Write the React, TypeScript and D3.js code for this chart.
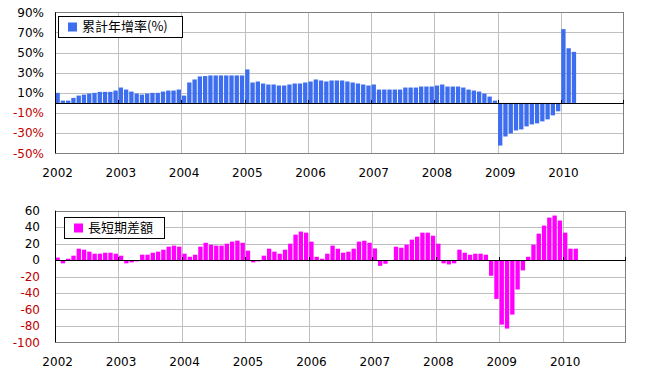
import React from "react";
import * as d3 from "d3";

const years = ["2002", "2003", "2004", "2005", "2006", "2007", "2008", "2009", "2010"];
const monthsPerYear = 12;
const totalMonths = 108; // 2002-01 .. 2010-12 axis span

const growth = [
  10, 2.3, 2.3, 5, 7.3, 8.3, 9.3, 10, 11, 11, 11, 12.3,
  15.3, 13.3, 11.3, 9.3, 8.3, 9.3, 10, 10, 11.3, 12.3, 12.3, 13.3,
  7.3, 20.3, 23.3, 26.3, 26.7, 27.3, 27.3, 27.3, 27.3, 27.3, 27.3, 27.3,
  33.3, 20.3, 21.3, 19.3, 18.3, 18.3, 17.3, 17.3, 18.3, 19.3, 19.3, 20.3,
  21.3, 23.3, 22.3, 21.3, 22.3, 22.3, 22.3, 21.3, 20.3, 19.3, 18.3, 17.3,
  18.3, 13.3, 13.3, 13.3, 13.3, 13.3, 15.3, 15.3, 15.3, 16.3, 16.3, 16.3,
  17.3, 18.3, 16.3, 16.3, 16.3, 15.3, 13.3, 12.3, 11.3, 9.3, 6.3, 2.3,
  -42.3, -33.3, -30.3, -27.3, -26.3, -23.3, -21.3, -20.3, -18.3, -16.3, -12.3, -8.3,
  73.3, 54.3, 50.7,
];

const spread = [
  3, -4, 1.6, 5.3, 13.8, 12.6, 10.2, 7.7, 7.7, 8.9, 8.9, 7.7,
  5.3, -4, -2.8, -1.6, 6.5, 6.5, 8.9, 10.2, 12.6, 16.3, 17.5, 16.3,
  7.7, 4, 6.5, 16.3, 21, 18.7, 17.5, 17.5, 19.9, 22.4, 23.6, 21,
  11.4, -2.8, -1.6, 5.3, 13.8, 10.2, 7.7, 12.6, 19.9, 30.9, 34.6, 33.3,
  22.4, 4, 1.6, 7.7, 17.5, 13.8, 8.9, 10.2, 13.8, 22.4, 23.5, 21,
  14.1, -7, -4.5, 0, 16.2, 15, 18.7, 24.8, 28.4, 33.3, 33.3, 29.6,
  19.9, -4, -5.3, -4, 12.6, 8.9, 6.5, 7.7, 7.7, 6.5, -19.1, -47.2,
  -78.5, -83.3, -66.3, -35.8, -12.6, 4, 18.7, 32.1, 41.9, 51.6, 54.1, 48,
  33.3, 13.8, 13.8,
];

const growthTicks = [90, 70, 50, 30, 10, -10, -30, -50];
const spreadTicks = [60, 40, 20, 0, -20, -40, -60, -80, -100];

const months = d3.range(totalMonths).map(
  (i) => `${2002 + Math.floor(i / monthsPerYear)}-${String((i % monthsPerYear) + 1).padStart(2, "0")}`
);

const FONT = "'DejaVu Sans', Verdana, sans-serif";
const CJK = "'Noto Sans CJK TC', 'Noto Sans CJK SC', sans-serif";
const RED = "#c00000";

type PanelProps = {
  values: number[];
  ticks: number[];
  domain: [number, number];
  top: number;
  bottom: number;
  right: number;
  color: string;
  fmt: (v: number) => string;
  labelRight: number;
  yearLabelY: number;
  legend: string;
  legendBox: { x: number; y: number; w: number; h: number };
};

function Panel(p: PanelProps) {
  const left = 55;
  const x = d3.scaleBand<string>().domain(months).range([left, p.right]).paddingInner(0.18).paddingOuter(0.09);
  const step = x.step();
  const y = d3.scaleLinear().domain(p.domain).range([p.bottom, p.top]);
  const y0 = y(0);
  const yearX = (yr: string) => x(`${yr}-01`)! - step * x.paddingOuter() * 0 - (step - x.bandwidth()) / 2;
  const boundary = (i: number) => left + (i * (p.right - left)) / totalMonths;
  return (
    <g>
      <rect x={left} y={p.top} width={p.right - left} height={p.bottom - p.top} fill="#fff" />
      {p.ticks.map((t) => (
        <line key={"h" + t} x1={left} x2={p.right} y1={Math.round(y(t)) + 0.5} y2={Math.round(y(t)) + 0.5} stroke="#c0c0c0" />
      ))}
      {years.slice(1).map((yr, i) => (
        <line key={"v" + yr} x1={Math.round(boundary((i + 1) * 12)) + 0.5} x2={Math.round(boundary((i + 1) * 12)) + 0.5} y1={p.top} y2={p.bottom} stroke="#c0c0c0" />
      ))}
      <rect x={left + 0.5} y={Math.round(p.top) + 0.5} width={p.right - left - 1} height={Math.round(p.bottom) - Math.round(p.top)} fill="none" stroke="#808080" />
      {p.values.map((v, i) => {
        const xx = x(months[i])!;
        const a = y(Math.max(v, 0));
        const b = y(Math.min(v, 0));
        return <rect key={i} x={xx} y={a} width={x.bandwidth()} height={Math.max(b - a, 0)} fill={p.color} />;
      })}
      <line x1={left} x2={p.right} y1={Math.round(y0) + 0.5} y2={Math.round(y0) + 0.5} stroke="#000" />
      {years.map((yr, i) => (
        <line key={"t" + yr} x1={Math.round(boundary(i * 12)) + 0.5} x2={Math.round(boundary(i * 12)) + 0.5} y1={y0} y2={y0 - 3} stroke="#000" />
      ))}
      <line x1={p.right - 0.5} x2={p.right - 0.5} y1={y0} y2={y0 - 3} stroke="#000" />
      <line x1={left + 0.5} x2={left + 0.5} y1={p.top} y2={p.bottom} stroke="#000" />
      {p.ticks.map((t) => (
        <text key={"l" + t} x={p.labelRight} y={y(t)} dy="0.36em" textAnchor="end" fontFamily={FONT} fontSize={12} fill={t < 0 ? RED : "#000"}>
          {p.fmt(t)}
        </text>
      ))}
      {years.map((yr) => (
        <text key={"y" + yr} x={x(`${yr}-01`)! + x.bandwidth() / 2} y={p.yearLabelY} textAnchor="middle" fontFamily={FONT} fontSize={12} fill="#000">
          {yr}
        </text>
      ))}
      <rect x={p.legendBox.x + 0.5} y={p.legendBox.y + 0.5} width={p.legendBox.w} height={p.legendBox.h} fill="#fff" stroke="#000" />
      <rect x={p.legendBox.x + 10} y={p.legendBox.y + p.legendBox.h / 2 - 4} width={9} height={9} fill={p.color} />
      <text x={p.legendBox.x + 24} y={p.legendBox.y + p.legendBox.h / 2} dy="0.36em" fontFamily={CJK} fontSize={13} fill="#000">
        {p.legend}
      </text>
    </g>
  );
}

export default function App() {
  return (
    <svg width={651} height={383} style={{ position: "absolute", left: 0, top: 0, background: "#fff" }}>
      <rect width={651} height={383} fill="#fff" />
      <Panel
        values={growth}
        ticks={growthTicks}
        domain={[-50, 90]}
        top={12.3}
        bottom={153.3}
        right={624}
        color="#3d6ef0"
        fmt={(v) => `${v}%`}
        labelRight={44}
        yearLabelY={177}
        legend="累計年增率(%)"
        legendBox={{ x: 58, y: 16, w: 124, h: 21 }}
      />
      <Panel
        values={spread}
        ticks={spreadTicks}
        domain={[-100, 60]}
        top={210.7}
        bottom={342.3}
        right={626}
        color="#ff00ff"
        fmt={(v) => `${v}`}
        labelRight={40}
        yearLabelY={366}
        legend="長短期差額"
        legendBox={{ x: 64, y: 217, w: 100, h: 21 }}
      />
    </svg>
  );
}
